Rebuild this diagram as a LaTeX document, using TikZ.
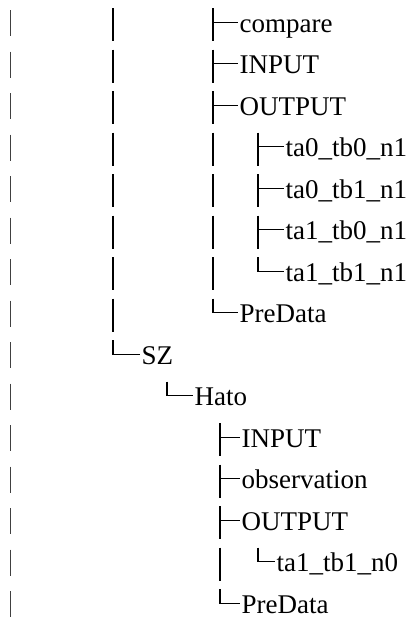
\documentclass[tikz,border=0pt]{standalone}
\usepackage{fontspec}
\setmainfont{Liberation Serif}
\newfontfamily\tnrfont{Liberation Serif}
\begin{document}
\begin{tikzpicture}[x=1pt,y=-1pt,
  lbl/.style={anchor=base west, inner xsep=1.5pt, inner ysep=0pt, font=\tnrfont\fontsize{27}{30}\selectfont},
  vline/.style={line width=1.6pt, black},
  hline/.style={line width=1pt, black},
  thinbar/.style={line width=1pt, black!75}]
\useasboundingbox (0,0) rectangle (415,619);
% row midlines
\def\ry#1{22+(#1-1)*41.5}
% column 1 thin bars, every row
\foreach \i in {1,...,15}{
  \draw[thinbar] (10,{\ry{\i}-12}) -- (10,{\ry{\i}+14});
}
% column 2 bars rows 1-8
\foreach \i in {1,...,8}{
  \draw[vline] (113,{\ry{\i}-14}) -- (113,{\ry{\i}+19});
}
% text nodes
\node[lbl] (t1) at (238,{\ry{1}+10}) {compare};
\node[lbl] (t2) at (238,{\ry{2}+10}) {INPUT};
\node[lbl] (t3) at (238,{\ry{3}+10}) {OUTPUT};
\node[lbl] (t4) at (284,{\ry{4}+10}) {ta0\_tb0\_n1};
\node[lbl] (t5) at (284,{\ry{5}+10}) {ta0\_tb1\_n1};
\node[lbl] (t6) at (284,{\ry{6}+10}) {ta1\_tb0\_n1};
\node[lbl] (t7) at (284,{\ry{7}+10}) {ta1\_tb1\_n1};
\node[lbl] (t8) at (238,{\ry{8}+10}) {PreData};
\node[lbl] (t9) at (140,{\ry{9}+10}) {SZ};
\node[lbl] (t10) at (193,{\ry{10}+10}) {Hato};
\node[lbl] (t11) at (240,{\ry{11}+10}) {INPUT};
\node[lbl] (t12) at (240,{\ry{12}+10}) {observation};
\node[lbl] (t13) at (240,{\ry{13}+10}) {OUTPUT};
\node[lbl] (t14) at (275,{\ry{14}+10}) {ta1\_tb1\_n0};
\node[lbl] (t15) at (240,{\ry{15}+10}) {PreData};
% branch points
\coordinate (b1) at (213,{\ry{1}});
\coordinate (b2) at (213,{\ry{2}});
\coordinate (b3) at (213,{\ry{3}});
\coordinate (b4) at (258,{\ry{4}});
\coordinate (b5) at (258,{\ry{5}});
\coordinate (b6) at (258,{\ry{6}});
\coordinate (b7) at (258,{\ry{7}});
\coordinate (b8) at (213,{\ry{8}});
\coordinate (b9) at (113,{\ry{9}});
\coordinate (b10) at (167,{\ry{10}});
\coordinate (b11) at (220,{\ry{11}});
\coordinate (b12) at (220,{\ry{12}});
\coordinate (b13) at (220,{\ry{13}});
\coordinate (b14) at (258,{\ry{14}});
\coordinate (b15) at (220,{\ry{15}});
% tees
\foreach \k in {1,2,3,4,5,6,11,12,13}{
  \draw[vline] ([yshift=14pt]b\k) -- ([yshift=-19pt]b\k);
}
% ells
\foreach \k in {7,8,9,10,14,15}{
  \draw[vline] ([yshift=14pt]b\k) -- ([yshift=-0.5pt]b\k);
}
% plain bars in column 3
\foreach \k in {4,5,6,7}{
  \draw[vline] (213,{\ry{\k}-14}) -- (213,{\ry{\k}+19});
}
\draw[vline] (220,{\ry{14}-14}) -- (220,{\ry{14}+19});
% horizontals
\foreach \k in {1,...,15}{
  \draw[hline] ([xshift=-0.8pt]b\k) -- (b\k -| t\k.west);
}
\end{tikzpicture}
\end{document}
